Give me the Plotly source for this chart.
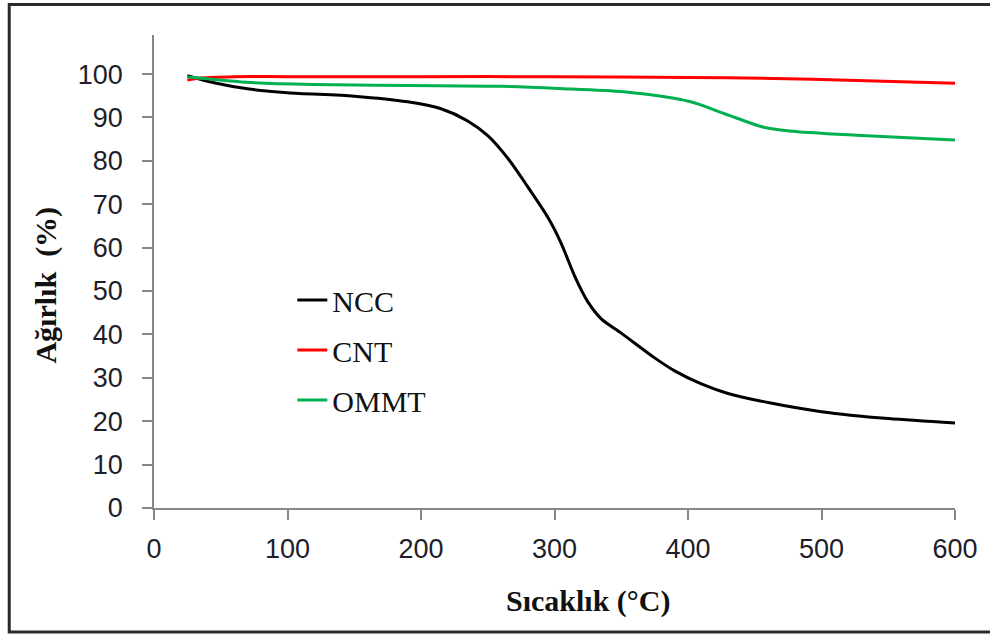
import plotly.graph_objects as go

# Data (temperature °C, weight %)
ncc_t = [25, 45, 70, 100, 150, 190, 215, 235, 250, 265, 280, 295, 305, 315, 325, 335, 350, 375, 390, 410, 430, 460, 500, 550, 600]
ncc_w = [99.6, 98.0, 96.6, 95.7, 94.9, 93.6, 92.0, 89.2, 85.8, 80.6, 74.0, 67.0, 61.0, 53.5, 47.5, 43.6, 40.3, 34.6, 31.6, 28.6, 26.4, 24.3, 22.2, 20.6, 19.6]

cnt_t = [25, 35, 60, 100, 200, 300, 400, 464, 520, 600]
cnt_w = [98.6, 99.1, 99.4, 99.4, 99.4, 99.4, 99.2, 99.0, 98.6, 97.9]

ommt_t = [25, 40, 69, 119, 213, 260, 303, 352, 402, 427, 456, 476, 526, 600]
ommt_w = [99.3, 98.9, 98.1, 97.6, 97.3, 97.2, 96.7, 95.9, 93.6, 90.9, 87.8, 86.9, 85.9, 84.8]

series_names = ["NCC", "CNT", "OMMT"]
x_ticks = [0, 100, 200, 300, 400, 500, 600]
y_ticks = [0, 10, 20, 30, 40, 50, 60, 70, 80, 90, 100]

colors = ["#000000", "#FF0000", "#00B050"]

fig = go.Figure()
for name, xs, ys, c in zip(series_names, [ncc_t, cnt_t, ommt_t], [ncc_w, cnt_w, ommt_w], colors):
    fig.add_trace(go.Scatter(x=xs, y=ys, mode="lines", name=name, legendgroup=name,
                             line=dict(color=c, width=3, shape="spline", smoothing=0.8)))

W, H = 990, 635
PL, PR, PT, PB = 154, 959, 35, 508  # plot area in page pixels
L, R, T, B = PL, W - PR, PT, H - PB
pw, ph = PR - PL, PB - PT

def px2paper_x(px):
    return (px - PL) / pw

def py2paper_y(py):
    return (PB - py) / ph

axis_common = dict(showgrid=False, zeroline=False, showline=True, linecolor="#878787", linewidth=1.5,
                   ticks="outside", ticklen=10, tickcolor="#878787", tickwidth=1.5,
                   tickfont=dict(family="Liberation Sans, Arial, sans-serif", size=27, color="#1e1e2a"))

fig.update_layout(
    width=W, height=H,
    margin=dict(l=L, r=R, t=T, b=B),
    paper_bgcolor="white", plot_bgcolor="white",
    xaxis=dict(range=[0, 600], tickvals=x_ticks, ticklabelstandoff=6, **axis_common),
    yaxis=dict(range=[0, 109], tickvals=y_ticks, ticklabelstandoff=14, **axis_common),
    legend=dict(x=px2paper_x(293), y=py2paper_y(274), xanchor="left", yanchor="top",
                bgcolor="rgba(0,0,0,0)", borderwidth=0, traceorder="grouped", tracegroupgap=8,
                font=dict(family="Liberation Serif, Times New Roman, serif", size=30, color="#111")),
    showlegend=True,
)

fig.add_annotation(text="<b>Sıcaklık (°C)</b>", xref="paper", yref="paper",
                   x=px2paper_x(591), y=py2paper_y(601), xanchor="center", yanchor="middle",
                   showarrow=False,
                   font=dict(family="Liberation Serif, Times New Roman, serif", size=30, color="#111"))
fig.add_annotation(text="<b>Ağırlık  (%)</b>", xref="paper", yref="paper",
                   x=px2paper_x(45), y=py2paper_y(285), xanchor="center", yanchor="middle",
                   textangle=-90, showarrow=False,
                   font=dict(family="Liberation Serif, Times New Roman, serif", size=30, color="#111"))

fig.add_shape(type="rect", xref="paper", yref="paper",
              x0=px2paper_x(8.5), x1=px2paper_x(1300), y0=py2paper_y(632), y1=py2paper_y(4.5),
              line=dict(color="#2a2a2a", width=3), fillcolor="rgba(0,0,0,0)", layer="below")

fig.write_html("out.html", config={"displayModeBar": False},
               post_script="document.body.style.margin='0';document.body.style.overflow='hidden';")
